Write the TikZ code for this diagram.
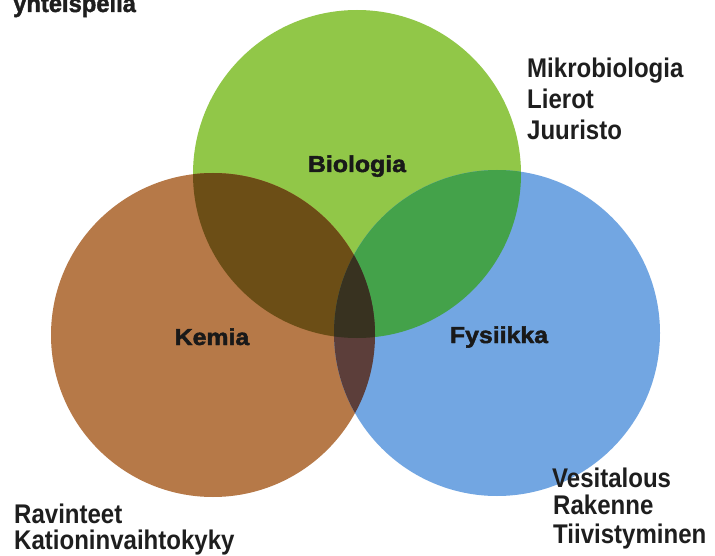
\documentclass[tikz,border=0pt]{standalone}
\usepackage{fontspec}
\setmainfont{Liberation Sans}
\newfontfamily\sidefont[FakeStretch=0.89]{Liberation Sans Bold}
\newfontfamily\heavyfont[FakeBold=2,FakeStretch=1.08]{Liberation Sans Bold}
\newfontfamily\topfont[FakeBold=1.5,FakeStretch=0.95]{Liberation Sans Bold}
\definecolor{cgreen}{RGB}{145,199,72}
\definecolor{corange}{RGB}{182,121,72}
\definecolor{cblue}{RGB}{114,166,226}
\definecolor{cgo}{RGB}{108,78,22}
\definecolor{cgb}{RGB}{68,162,74}
\definecolor{cob}{RGB}{92,62,58}
\definecolor{cgob}{RGB}{56,50,32}
\definecolor{txt}{RGB}{30,30,30}
\begin{document}
\begin{tikzpicture}[x=1pt,y=-1pt,
  sidetext/.style={font=\sidefont\fontsize{27}{27}\selectfont, text=txt, inner sep=0pt, anchor=base west},
  circlabel/.style={font=\heavyfont\fontsize{23}{23}\selectfont, text=black!90, inner sep=0pt, anchor=base}]
\useasboundingbox (0,0) rectangle (715,556);
\clip (0,0) rectangle (715,556);
\fill[white] (0,0) rectangle (715,556);
\coordinate (G) at (357,174);
\coordinate (O) at (213,335);
\coordinate (B) at (497,333);
\def\rG{164}\def\rO{162}\def\rB{163}
% base circles
\fill[cgreen] (G) circle (\rG);
\fill[corange] (O) circle (\rO);
\fill[cblue] (B) circle (\rB);
% pairwise intersections
\begin{scope}
  \clip (G) circle (\rG);
  \fill[cgo] (O) circle (\rO);
\end{scope}
\begin{scope}
  \clip (G) circle (\rG);
  \fill[cgb] (B) circle (\rB);
\end{scope}
\begin{scope}
  \clip (O) circle (\rO);
  \fill[cob] (B) circle (\rB);
\end{scope}
\begin{scope}
  \clip (G) circle (\rG);
  \clip (O) circle (\rO);
  \fill[cgob] (B) circle (\rB);
\end{scope}
% circle labels
\node[circlabel] (lbio) at (357,172) {Biologia};
\node[circlabel] (lkem) at (212,345) {Kemia};
\node[circlabel] (lfys) at (499,343) {Fysiikka};
% side texts
\node[sidetext, font=\topfont\fontsize{25}{25}\selectfont] (top) at (13,12) {yhteispeliä};
\node[sidetext] (m1) at (527,78) {Mikrobiologia};
\node[sidetext] (m2) at (527,109) {Lierot};
\node[sidetext] (m3) at (527,140) {Juuristo};
\node[sidetext] (r1) at (14,523) {Ravinteet};
\node[sidetext] (r2) at (14,549) {Kationinvaihtokyky};
\node[sidetext] (v1) at (552,487) {Vesitalous};
\node[sidetext] (v2) at (553,514) {Rakenne};
\node[sidetext] (v3) at (553,543) {Tiivistyminen};
\end{tikzpicture}
\end{document}
